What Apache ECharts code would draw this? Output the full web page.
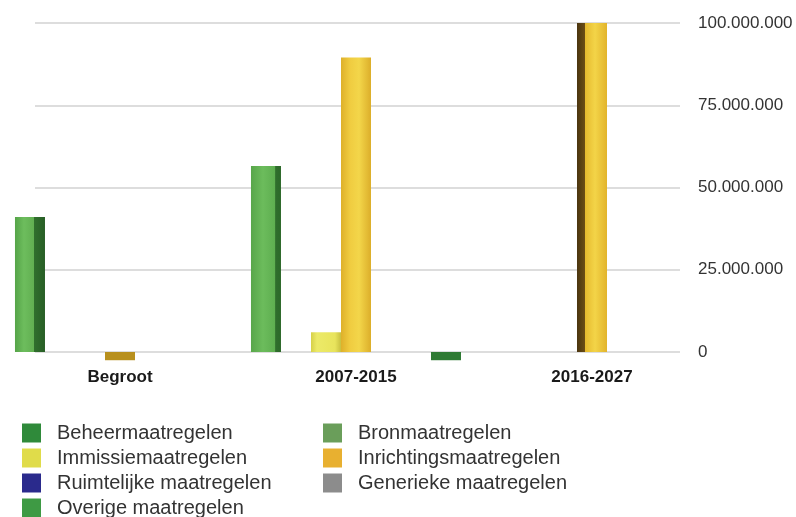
<!DOCTYPE html>
<html>
<head>
<meta charset="utf-8">
<script src="https://cdn.jsdelivr.net/npm/echarts@6/dist/echarts.min.js"></script>
<style>
html,body{margin:0;padding:0;background:#fff;}
#chart{width:796px;height:517px;}
</style>
</head>
<body>
<div id="chart"></div>
<script>
// ---- data ----
var categories = ['Begroot', '2007-2015', '2016-2027'];
var seriesNames = ['Beheermaatregelen', 'Bronmaatregelen', 'Immissiemaatregelen', 'Inrichtingsmaatregelen',
                   'Ruimtelijke maatregelen', 'Generieke maatregelen', 'Overige maatregelen'];
var beheer      = [41000000, 56500000, 0];
var bron        = [0, 0, 0];
var immissie    = [0, 6000000, 0];
var inrichting  = [-2500000, 89500000, 100000000];
var ruimtelijk  = [0, 0, 0];
var generiek    = [0, 0, 0];
var overig      = [0, -2500000, 0];
var yTicks = [0, 25000000, 50000000, 75000000, 100000000];

// ---- styles ----
var legendColors = ['#2f8a3a', '#6a9e5a', '#e0dc4a', '#e8b030', '#2a2a8c', '#8c8c8c', '#3e9a44'];
function grad(stops) {
  return {type: 'linear', x: 0, y: 0, x2: 1, y2: 0,
    colorStops: stops.map(function (s) { return {offset: s[0], color: s[1]}; })};
}
var itemColors = {
  'Beheermaatregelen': [
    grad([[0, '#55a448'], [0.3, '#6dbd5d'], [0.62, '#62b052'], [0.63, '#30702d'], [1, '#285e26']]),
    grad([[0, '#58a64a'], [0.4, '#6cbc5c'], [0.8, '#5eae50'], [0.82, '#2f6e2c'], [1, '#2c6829']]),
    null],
  'Immissiemaatregelen': [null,
    grad([[0, '#d6d048'], [0.2, '#ecea68'], [0.8, '#e8e45c'], [1, '#c8c040']]), null],
  'Inrichtingsmaatregelen': [
    '#b8901e',
    grad([[0, '#deb02a'], [0.3, '#f0cc40'], [0.6, '#f3d64a'], [1, '#dcae2a']]),
    grad([[0, '#4a3510'], [0.25, '#6a4c14'], [0.27, '#e6ba2e'], [0.6, '#f3d448'], [1, '#e2b42c']])],
  'Overige maatregelen': [null, '#2f7a34', null]
};
var seriesData = [beheer, bron, immissie, inrichting, ruimtelijk, generiek, overig];

function dots(v) { return String(v).replace(/\B(?=(\d{3})+(?!\d))/g, '.'); }

var series = seriesNames.map(function (name, i) {
  var styles = itemColors[name] || [];
  return {
    name: name,
    type: 'bar',
    xAxisIndex: 0,
    yAxisIndex: 0,
    clip: false,
    barGap: '0%',
    barCategoryGap: '11%',
    itemStyle: {color: legendColors[i]},
    data: seriesData[i].map(function (v, j) {
      var o = {value: v};
      if (styles[j]) o.itemStyle = {color: styles[j]};
      return o;
    })
  };
});

var font = '"Liberation Sans", Arial, Helvetica, sans-serif';
var legendCommon = {
  orient: 'vertical', top: 423, itemWidth: 19, itemHeight: 19, itemGap: 5,
  icon: 'rect', selectedMode: false, padding: 0, height: 100,
  textStyle: {fontFamily: font, fontSize: 20, color: '#333', padding: [0, 0, 0, 11]}
};

var option = {
  animation: false,
  backgroundColor: '#fff',
  grid: [
    {left: 2, width: 708, top: 23, height: 329},
    {left: 35, width: 645, top: 23, height: 329}
  ],
  xAxis: [
    {type: 'category', gridIndex: 0, data: categories,
     axisLine: {show: false}, axisTick: {show: false},
     axisLabel: {margin: 17, fontFamily: font, fontSize: 17, fontWeight: 'bold', color: '#1a1a1a'}},
    {type: 'value', gridIndex: 1, show: false}
  ],
  yAxis: [
    {type: 'value', gridIndex: 0, min: yTicks[0], max: yTicks[yTicks.length - 1], show: false},
    {type: 'value', gridIndex: 1, position: 'right',
     min: yTicks[0], max: yTicks[yTicks.length - 1], interval: yTicks[1] - yTicks[0],
     axisLine: {show: false}, axisTick: {show: false},
     splitLine: {lineStyle: {color: '#d2d2d2', width: 1.5}},
     axisLabel: {margin: 18, fontFamily: font, fontSize: 17, color: '#333', formatter: dots}}
  ],
  legend: [
    Object.assign({left: 22, data: [seriesNames[0], seriesNames[2], seriesNames[4], seriesNames[6]]}, legendCommon),
    Object.assign({left: 323, data: [seriesNames[1], seriesNames[3], seriesNames[5]]}, legendCommon)
  ],
  series: series
};

var chart = echarts.init(document.getElementById('chart'), null, {renderer: 'canvas'});
chart.setOption(option);
</script>
</body>
</html>
